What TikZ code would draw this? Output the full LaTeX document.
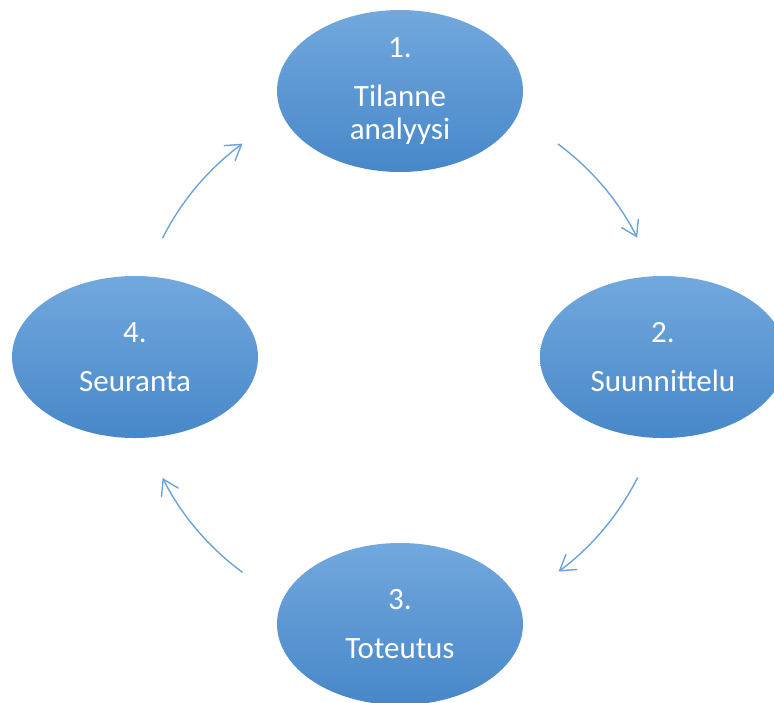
\documentclass[tikz,border=0pt]{standalone}
\usepackage{fontspec}
\setmainfont{Carlito}
\usetikzlibrary{shapes.geometric,arrows.meta,calc}
\definecolor{elltop}{HTML}{72A8DD}
\definecolor{ellbot}{HTML}{4787C9}
\definecolor{arrcol}{HTML}{6AA3DC}
\tikzset{
  phase/.style={ellipse, minimum width=246pt, minimum height=162pt, inner sep=0pt,
    top color=elltop, bottom color=ellbot, draw=none, text=white, align=center,
    font=\fontsize{31}{33}\selectfont},
  cyc/.style={draw=arrcol, line width=1.4pt, -{Straight Barb[length=15pt,width=19pt,line width=1.4pt]}}
}
\begin{document}
\begin{tikzpicture}[x=1pt,y=1pt]
\useasboundingbox (0,0) rectangle (774,-702);
\clip (0,0) rectangle (774,-702);
\node[phase] (n1) at (400,-91) {1.\\[16pt]Tilanne\\analyysi};
\node[phase] (n2) at (663,-357) {2.\\[16pt]Suunnittelu};
\node[phase] (n3) at (400,-624) {3.\\[16pt]Toteutus};
\node[phase] (n4) at (135,-357) {4.\\[16pt]Seuranta};
\coordinate (c) at (400,-358);
\coordinate (s1) at ($(c)+(53.6:266pt)$);
\coordinate (s2) at ($(c)+(-26.7:266pt)$);
\coordinate (s3) at ($(c)+(-126.3:266pt)$);
\coordinate (s4) at ($(c)+(153.2:266pt)$);
\draw[cyc] (s1) arc[start angle=53.6, end angle=26.9, radius=266pt];
\draw[cyc] (s2) arc[start angle=-26.7, end angle=-53.4, radius=266pt];
\draw[cyc] (s3) arc[start angle=-126.3, end angle=-153.2, radius=266pt];
\draw[cyc] (s4) arc[start angle=153.2, end angle=126.3, radius=266pt];
\end{tikzpicture}
\end{document}
